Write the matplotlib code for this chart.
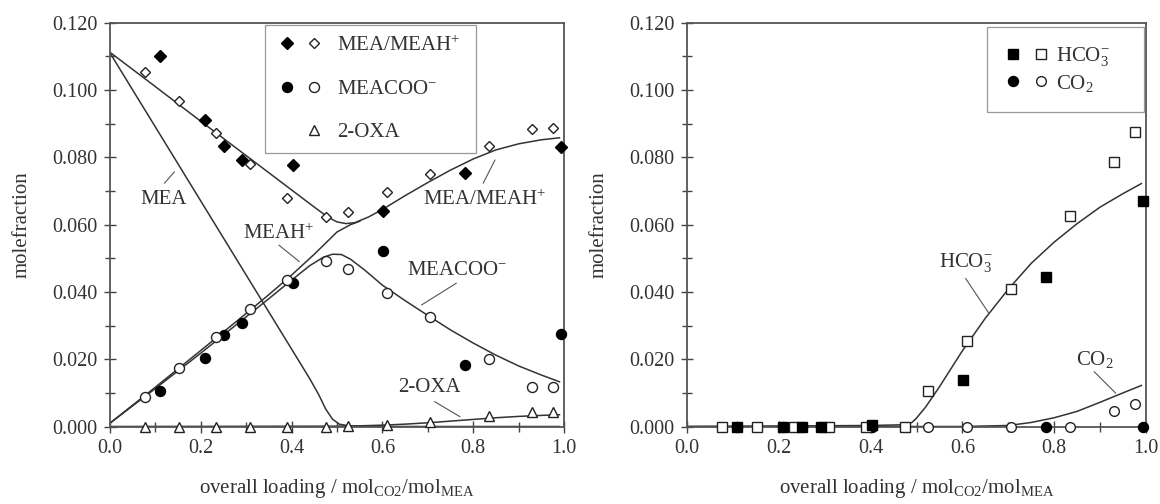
import numpy as np
import matplotlib
matplotlib.use("Agg")
import matplotlib.pyplot as plt
from matplotlib.lines import Line2D
from matplotlib.legend_handler import HandlerTuple
from matplotlib.ticker import MultipleLocator, FormatStrFormatter

plt.rcParams['font.family'] = ['Liberation Serif', 'DejaVu Serif']
plt.rcParams['mathtext.fontset'] = 'custom'
plt.rcParams['mathtext.rm'] = 'Liberation Serif'
plt.rcParams['mathtext.it'] = 'Liberation Serif:italic'
plt.rcParams['mathtext.bf'] = 'Liberation Serif:bold'

# ---------------- data ----------------
# experimental loadings
open_x = [0.077, 0.153, 0.234, 0.309, 0.390, 0.476, 0.525, 0.611, 0.705, 0.835, 0.930, 0.976]
filled_x = [0.110, 0.210, 0.251, 0.291, 0.402, 0.601, 0.782, 0.993]

# left panel points
meah_open = [0.1054, 0.0968, 0.0873, 0.0780, 0.0679, 0.0622, 0.0638, 0.0696, 0.0749, 0.0835, 0.0884, 0.0887]
meah_filled = [0.1102, 0.0912, 0.0835, 0.0791, 0.0778, 0.0640, 0.0752, 0.0832]
meacoo_open = [0.0088, 0.0173, 0.0267, 0.0349, 0.0435, 0.0492, 0.0467, 0.0398, 0.0326, 0.0200, 0.0118, 0.0118]
meacoo_filled = [0.0105, 0.0204, 0.0271, 0.0307, 0.0426, 0.0522, 0.0184, 0.0276]
oxa_open = [0.0, 0.0, 0.0, 0.0, 0.0, 0.0, 0.0002, 0.0004, 0.0012, 0.0030, 0.0042, 0.0042]

# right panel points
hco3_open = [0.0, 0.0, 0.0, 0.0, 0.0, 0.0, 0.0105, 0.0255, 0.0410, 0.0626, 0.0787, 0.0876]
hco3_filled = [0.0, 0.0, 0.0, 0.0, 0.0005, 0.0139, 0.0443, 0.0669]
co2_open = [0.0, 0.0, 0.0, 0.0, 0.0, 0.0, 0.0, 0.0, 0.0, 0.0, 0.0045, 0.0067]
co2_filled_x = [0.110, 0.210, 0.251, 0.291, 0.402, 0.782, 0.993]
co2_filled = [0.0, 0.0, 0.0, 0.0, 0.0, 0.0, 0.0]

# model curves (left)
meatot_x = [0.0, 0.1, 0.2, 0.3, 0.4, 0.45, 0.48, 0.50, 0.52, 0.54, 0.57, 0.6, 0.65, 0.7, 0.75, 0.8, 0.85, 0.9, 0.95, 0.99]
meatot_y = [0.1112, 0.1010, 0.0907, 0.0805, 0.0703, 0.0652, 0.0622, 0.0608, 0.0603, 0.0606, 0.0623, 0.0645, 0.0686, 0.0725, 0.0762, 0.0795, 0.0822, 0.0840, 0.0852, 0.0858]
mea_x = [0.0, 0.1, 0.2, 0.3, 0.4, 0.42, 0.44, 0.46, 0.475, 0.49, 0.505, 0.53, 0.56, 0.99]
mea_y = [0.1110, 0.0890, 0.0670, 0.0450, 0.0230, 0.0186, 0.0142, 0.0094, 0.0052, 0.0022, 0.0007, 0.0001, 0.0, 0.0]
meah_x = [0.0, 0.1, 0.2, 0.3, 0.35, 0.4, 0.45, 0.5, 0.53, 0.55]
meah_y = [0.0010, 0.0117, 0.0226, 0.0336, 0.0392, 0.0450, 0.0512, 0.0578, 0.0600, 0.0610]
meacoo_x = [0.0, 0.1, 0.2, 0.3, 0.35, 0.4, 0.44, 0.47, 0.49, 0.51, 0.53, 0.56, 0.6, 0.65, 0.7, 0.75, 0.8, 0.85, 0.9, 0.95, 0.99]
meacoo_y = [0.0010, 0.0113, 0.0218, 0.0326, 0.0380, 0.0435, 0.0478, 0.0503, 0.0512, 0.0511, 0.0497, 0.0466, 0.0420, 0.0374, 0.0330, 0.0287, 0.0248, 0.0212, 0.0180, 0.0153, 0.0133]
oxa_x = [0.0, 0.5, 0.55, 0.6, 0.65, 0.7, 0.75, 0.8, 0.85, 0.9, 0.95, 0.99]
oxa_y = [0.0, 0.0001, 0.0002, 0.0004, 0.0007, 0.0011, 0.0016, 0.0021, 0.0026, 0.0030, 0.0033, 0.0035]

# model curves (right)
hco3_x = [0.0, 0.4, 0.47, 0.49, 0.5, 0.52, 0.55, 0.6, 0.65, 0.7, 0.75, 0.8, 0.85, 0.9, 0.95, 0.99]
hco3_y = [0.0, 0.0003, 0.0005, 0.0012, 0.0025, 0.0058, 0.0118, 0.0225, 0.0322, 0.0408, 0.0485, 0.0548, 0.0603, 0.0652, 0.0692, 0.0722]
co2_x = [0.0, 0.6, 0.7, 0.75, 0.8, 0.85, 0.9, 0.95, 0.99]
co2_y = [0.0, 0.0, 0.0003, 0.0012, 0.0026, 0.0045, 0.0072, 0.0100, 0.0122]

x_ticks = [0.0, 0.2, 0.4, 0.6, 0.8, 1.0]
y_ticks = [0.000, 0.020, 0.040, 0.060, 0.080, 0.100, 0.120]

# ---------------- figure ----------------
W, H = 1160, 504
fig = plt.figure(figsize=(W / 100, H / 100), dpi=100)
axL = fig.add_axes([110 / W, 1 - 426.5 / H, 454 / W, (426.5 - 22.7) / H])
axR = fig.add_axes([687 / W, 1 - 426.5 / H, 459 / W, (426.5 - 22.7) / H])

LC = '#333333'
FS = 15
TFS = 14.5
mk = dict(linestyle='none', clip_on=False, markeredgewidth=1.0, zorder=4)

def style(ax):
    ax.set_xlim(0, 1.0)
    ax.set_ylim(0, 0.12)
    ax.set_xticks(x_ticks)
    ax.set_yticks(y_ticks)
    ax.xaxis.set_minor_locator(MultipleLocator(0.1))
    ax.yaxis.set_minor_locator(MultipleLocator(0.01))
    ax.xaxis.set_major_formatter(FormatStrFormatter('%.1f'))
    ax.yaxis.set_major_formatter(FormatStrFormatter('%.3f'))
    ax.tick_params(which='both', direction='inout', top=False, right=False,
                   colors='#444444', labelcolor='#333333', labelsize=TFS, width=1.0)
    ax.tick_params(which='major', length=8, pad=5)
    ax.tick_params(which='minor', length=7)
    for s in ax.spines.values():
        s.set_linewidth(1.3)
        s.set_color('#555555')
    ax.set_ylabel('molefraction', fontsize=FS, color='#333333', labelpad=15)
    ax.set_xlabel(r'overall loading / mol$_{\mathregular{CO2}}$/mol$_{\mathregular{MEA}}$',
                  fontsize=FS, color='#333333', labelpad=14)

# ---- left panel ----
ax = axL
style(ax)
ax.plot(meatot_x, meatot_y, color=LC, lw=1.1)
ax.plot(mea_x, mea_y, color=LC, lw=1.1)
ax.plot(meah_x, meah_y, color=LC, lw=1.1)
ax.plot(meacoo_x, meacoo_y, color=LC, lw=1.1)
ax.plot(oxa_x, oxa_y, color=LC, lw=1.1)

h1f, = ax.plot(filled_x, meah_filled, marker='D', ms=5.8, mfc='black', mec='black', **mk)
h1o, = ax.plot(open_x, meah_open, marker='D', ms=5.2, mfc='white', mec='#222222', **mk)
h2f, = ax.plot(filled_x, meacoo_filled, marker='o', ms=7.2, mfc='black', mec='black', **mk)
h2o, = ax.plot(open_x, meacoo_open, marker='o', ms=7.2, mfc='white', mec='#222222', **mk)
h3o, = ax.plot(open_x, oxa_open, marker='^', ms=7.0, mfc='white', mec='#222222', **mk)
blank = Line2D([], [], linestyle='none', marker=None)

legL = ax.legend([(h1f, h1o), (h2f, h2o), (blank, h3o)],
                 [r'MEA/MEAH$^{+}$', r'MEACOO$^{-}$', '2-OXA'],
                 handler_map={tuple: HandlerTuple(ndivide=None, pad=0.18)},
                 loc='upper left', bbox_to_anchor=(0.341, 0.675, 0.465, 0.319),
                 mode='expand', borderaxespad=0, fontsize=FS, handlelength=2.41,
                 handletextpad=0.55, borderpad=0.5, labelspacing=1.14,
                 frameon=True, fancybox=False, framealpha=1)
legL.get_frame().set_edgecolor('#999999')
legL.get_frame().set_linewidth(0.9)
for t in legL.get_texts():
    t.set_color('#333333')

lead = dict(arrowstyle='-', color='#555555', lw=0.8, shrinkA=0, shrinkB=0)
ann = dict(fontsize=FS, color='#333333', ha='center', va='center')
ax.annotate('', xy=(0.142, 0.0757), xytext=(0.120, 0.0723), arrowprops=lead)
ax.text(0.118, 0.0675, 'MEA', **ann)
ax.annotate('', xy=(0.417, 0.0490), xytext=(0.372, 0.0539), arrowprops=lead)
ax.text(0.372, 0.0572, r'MEAH$^{+}$', **ann)
ax.annotate('', xy=(0.848, 0.0792), xytext=(0.822, 0.0723), arrowprops=lead)
ax.text(0.826, 0.0673, r'MEA/MEAH$^{+}$', **ann)
ax.annotate('', xy=(0.686, 0.0361), xytext=(0.763, 0.0426), arrowprops=lead)
ax.text(0.765, 0.0465, r'MEACOO$^{-}$', **ann)
ax.annotate('', xy=(0.771, 0.0029), xytext=(0.715, 0.0074), arrowprops=lead)
ax.text(0.704, 0.0117, '2-OXA', **ann)

# ---- right panel ----
ax = axR
style(ax)
ax.plot(hco3_x, hco3_y, color=LC, lw=1.1)
ax.plot(co2_x, co2_y, color=LC, lw=1.1)
c1o, = ax.plot(open_x, co2_open, marker='o', ms=7.0, mfc='white', mec='#222222', **mk)
c1f, = ax.plot(co2_filled_x, co2_filled, marker='o', ms=7.2, mfc='black', mec='black', **mk)
s1o, = ax.plot(open_x, hco3_open, marker='s', ms=7.2, mfc='white', mec='#222222', **mk)
s1f, = ax.plot(filled_x, hco3_filled, marker='s', ms=7.2, mfc='black', mec='black', **mk)

legR = ax.legend([(s1f, s1o), (c1f, c1o)],
                 [r'HCO$_{3}^{-}$', r'CO$_{2}$'],
                 handler_map={tuple: HandlerTuple(ndivide=None, pad=0.56)},
                 loc='upper left', bbox_to_anchor=(0.653, 0.769, 0.342, 0.221),
                 mode='expand', borderaxespad=0, fontsize=FS, handlelength=2.08,
                 handletextpad=0.34, borderpad=0.9, labelspacing=0.2,
                 frameon=True, fancybox=False, framealpha=1)
legR.get_frame().set_edgecolor('#999999')
legR.get_frame().set_linewidth(0.9)
for t in legR.get_texts():
    t.set_color('#333333')

ax.annotate('', xy=(0.658, 0.0336), xytext=(0.607, 0.0440), arrowprops=lead)
ax.text(0.607, 0.0486, r'HCO$_{3}^{-}$', **ann)
ax.annotate('', xy=(0.934, 0.0099), xytext=(0.887, 0.0163), arrowprops=lead)
ax.text(0.889, 0.0200, r'CO$_{2}$', **ann)

fig.savefig('out.png', dpi=100)
